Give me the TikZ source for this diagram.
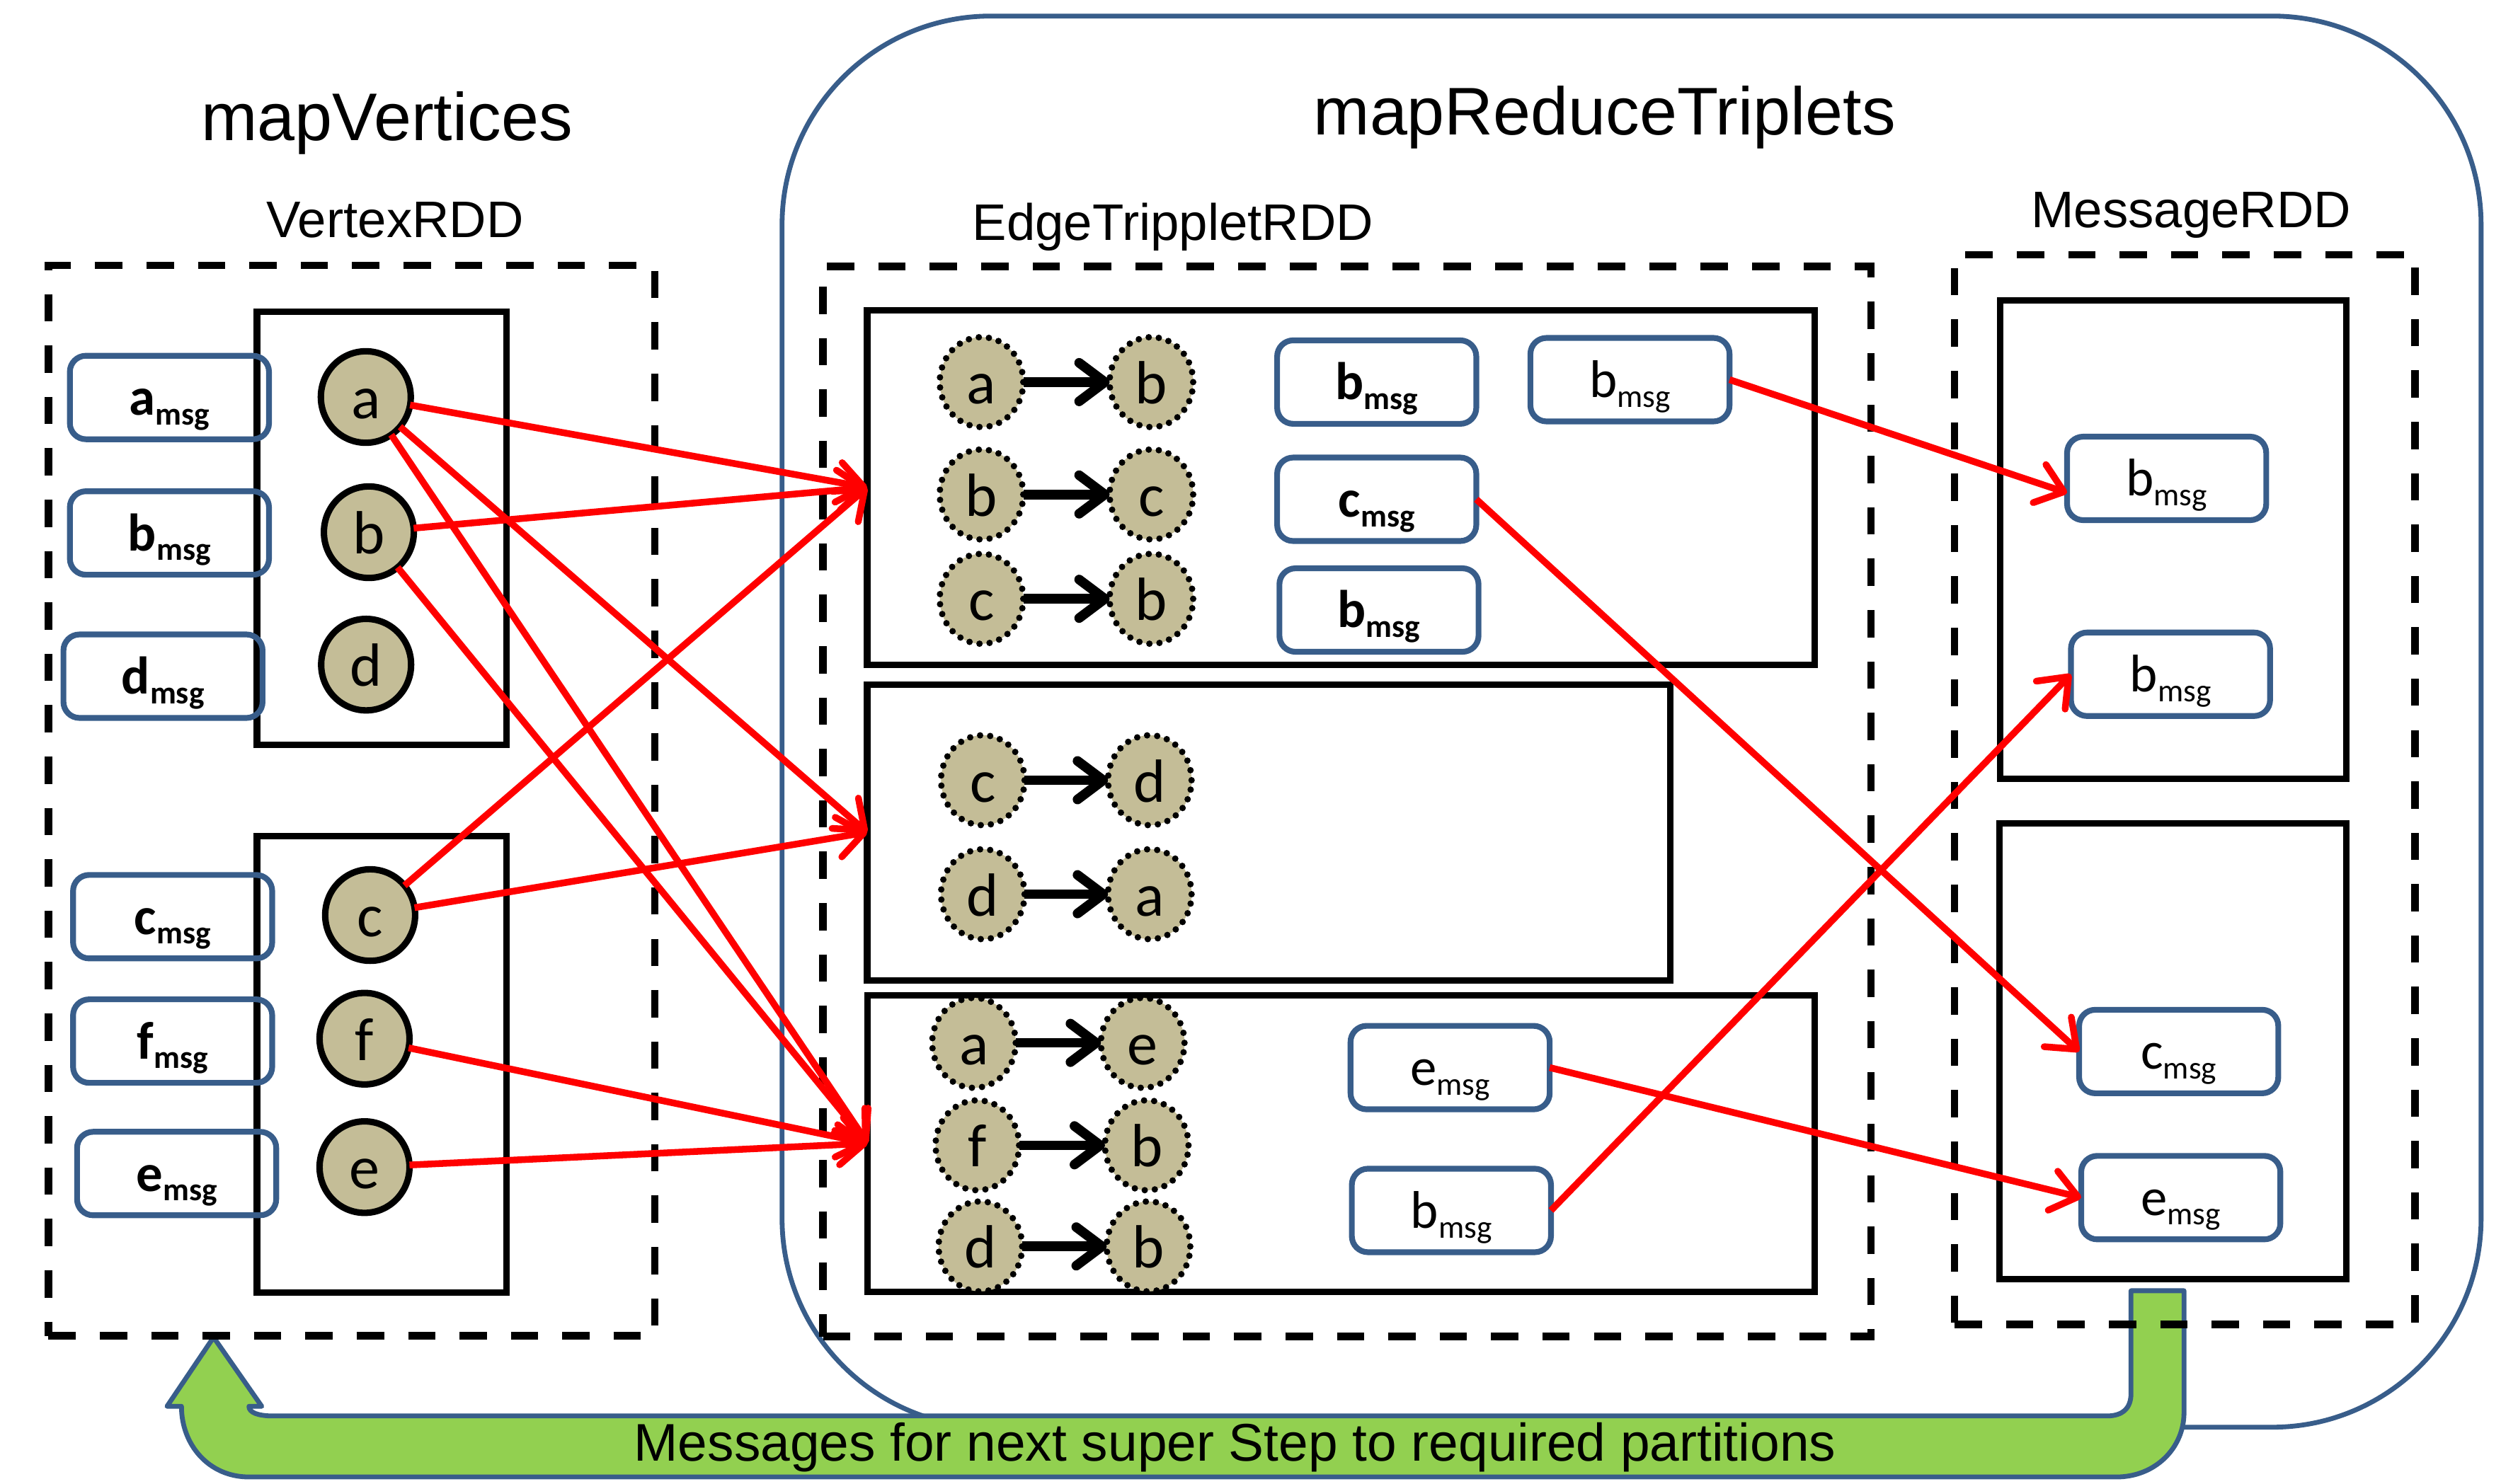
\documentclass[tikz,border=0pt]{standalone}
\usepackage{fontspec}
\setmainfont{Carlito}
\newfontfamily\arialf{Liberation Sans}
\usetikzlibrary{shapes.geometric,arrows.meta,calc}
\definecolor{msgblue}{RGB}{56,93,138}
\definecolor{tanfill}{RGB}{196,189,151}
\definecolor{greenfill}{RGB}{146,208,80}
\newcommand{\msgtext}[1]{{\fontsize{33}{33}\selectfont #1}\raisebox{-6pt}{\fontsize{20}{20}\selectfont msg}}
\begin{document}
\begin{tikzpicture}[x=1pt,y=-1pt,
  dashbox/.style={draw, line width=4.6pt, dash pattern=on 17pt off 15pt, inner sep=0pt, outer sep=0pt},
  partbox/.style={draw, line width=4pt, inner sep=0pt, outer sep=0pt},
  msgbox/.style={draw=msgblue, line width=3.6pt, rounded corners=10pt, minimum width=124pt, minimum height=52pt, inner sep=0pt, outer sep=0pt, text height=27pt, text depth=5pt},
  vert/.style={ellipse, draw, line width=4pt, fill=tanfill, minimum width=56pt, minimum height=57pt, inner sep=0pt, outer sep=0pt, font=\fontsize{38}{38}\selectfont, text height=27pt, text depth=0pt},
  dvert/.style={vert, line width=4pt, dash pattern=on 0pt off 6.3pt, line cap=round, minimum width=52pt, minimum height=56pt},
  redarr/.style={draw=red, line width=4.2pt, -{Straight Barb[length=16pt,width=25pt,round]}},
  tarr/.style={draw, line width=6pt, -{Straight Barb[length=16pt,width=24pt,round]}},
  titletext/.style={font=\arialf\fontsize{42}{42}\selectfont, anchor=base, inner sep=0pt},
  subtitletext/.style={font=\arialf\fontsize{32}{32}\selectfont, anchor=base, inner sep=0pt}
]
\useasboundingbox (0,0) rectangle (1568,924);

% big mapReduceTriplets frame
\draw[draw=msgblue, line width=3pt, rounded corners=130pt] (487,10) rectangle (1545,889);

% green return arrow
\draw[draw=msgblue, line width=3pt, fill=greenfill, line join=round]
 (1327,804) -- (1327,868) .. controls (1327,877) and (1322,882) .. (1312,882)
 -- (170,882) .. controls (161,882) and (155,880) .. (155,876)
 -- (163,876) -- (133,833) -- (104,876) -- (113,876)
 .. controls (113,900) and (130,920) .. (155,920)
 -- (1318,920) .. controls (1342,920) and (1360,902) .. (1360,880)
 -- (1360,804) -- cycle;
\node[font=\arialf\fontsize{33}{33}\selectfont, anchor=base, inner sep=0pt] (looptext) at (769,910) {Messages for next super Step to required partitions};

% titles
\node[titletext] (t1) at (241,87.4) {mapVertices};
\node[titletext] (t2) at (999.3,83.8) {mapReduceTriplets};
\node[subtitletext] (s1) at (246,148.1) {VertexRDD};
\node[subtitletext] (s2) at (730.4,149.6) {EdgeTrippletRDD};
\node[subtitletext] (s3) at (1364.4,141.7) {MessageRDD};

% dashed RDD boxes
\node[dashbox, minimum width=377.7pt, minimum height=666.7pt] (vrdd) at (219,498.7) {};
\node[dashbox, minimum width=652.5pt, minimum height=666.5pt] (erdd) at (838.75,499.25) {};
\node[dashbox, minimum width=286.7pt, minimum height=666.3pt] (mrdd) at (1360.55,491.85) {};

% partitions
\node[partbox, minimum width=155.5pt, minimum height=270pt] (vp1) at (237.75,329) {};
\node[partbox, minimum width=155.5pt, minimum height=284pt] (vp2) at (237.75,663) {};
\node[partbox, minimum width=590pt, minimum height=221pt] (ep1) at (835,303.7) {};
\node[partbox, minimum width=500pt, minimum height=184.3pt] (ep2) at (790,518.45) {};
\node[partbox, minimum width=589.7pt, minimum height=184.8pt] (ep3) at (835.15,712.2) {};
\node[partbox, minimum width=215.6pt, minimum height=297.7pt] (mp1) at (1353.4,336.15) {};
\node[partbox, minimum width=216pt, minimum height=283.9pt] (mp2) at (1353.2,654.75) {};

% vertex messages
\node[msgbox] (am) at (105.5,247.6) {\bfseries\msgtext{a}};
\node[msgbox] (bm) at (105.5,332) {\bfseries\msgtext{b}};
\node[msgbox] (dm) at (101.5,421.2) {\bfseries\msgtext{d}};
\node[msgbox] (cm) at (107.5,571) {\bfseries\msgtext{c}};
\node[msgbox] (fm) at (107.5,648.5) {\bfseries\msgtext{f}};
\node[msgbox] (em) at (110,731) {\bfseries\msgtext{e}};

% vertices
\node[vert] (va) at (227.8,247.3) {a};
\node[vert] (vb) at (229.7,331.5) {b};
\node[vert] (vd) at (228,414) {d};
\node[vert] (vc) at (230.5,570) {c};
\node[vert] (vf) at (227,647) {f};
\node[vert] (ve) at (227,727) {e};

% edge triplets
\node[dvert] (t1a) at (611.2,238) {a};
\node[dvert] (t1b) at (717,238) {b};
\node[dvert] (t2a) at (611.2,308) {b};
\node[dvert] (t2b) at (717,308) {c};
\node[dvert] (t3a) at (611.2,373) {c};
\node[dvert] (t3b) at (717,373) {b};
\node[dvert] (t4a) at (612,486) {c};
\node[dvert] (t4b) at (716,486) {d};
\node[dvert] (t5a) at (612,557) {d};
\node[dvert] (t5b) at (716,557) {a};
\node[dvert] (t6a) at (606.5,649.6) {a};
\node[dvert] (t6b) at (711.6,649.6) {e};
\node[dvert] (t7a) at (608.6,713.4) {f};
\node[dvert] (t7b) at (714.1,713.4) {b};
\node[dvert] (t8a) at (610.5,776.4) {d};
\node[dvert] (t8b) at (715.2,776.4) {b};
\foreach \i in {1,...,8} {\draw[tarr] (t\i a) -- (t\i b);}

% edge partition messages
\node[msgbox] (e1) at (857.3,238) {\bfseries\msgtext{b}};
\node[msgbox] (e2) at (857.3,311) {\bfseries\msgtext{c}};
\node[msgbox] (e3) at (858.7,380) {\bfseries\msgtext{b}};
\node[msgbox] (e4) at (1015,236.5) {\msgtext{b}};
\node[msgbox] (e5) at (903,665) {\msgtext{e}};
\node[msgbox] (e6) at (903.8,754) {\msgtext{b}};

% message RDD messages
\node[msgbox] (m1) at (1349.2,298) {\msgtext{b}};
\node[msgbox] (m2) at (1351.6,420) {\msgtext{b}};
\node[msgbox] (m3) at (1356.7,655) {\msgtext{c}};
\node[msgbox] (m4) at (1358,746) {\msgtext{e}};

% red arrows: vertices to edge partitions
\draw[redarr] (va) -- (ep1.west);
\draw[redarr] (vb) -- (ep1.west);
\draw[redarr] (vc) -- (ep1.west);
\draw[redarr] (va) -- (ep2.west);
\draw[redarr] (vc) -- (ep2.west);
\draw[redarr] (va) -- (ep3.west);
\draw[redarr] (vb) -- (ep3.west);
\draw[redarr] (vf) -- (ep3.west);
\draw[redarr] (ve) -- (ep3.west);

% red arrows: messages to message RDD
\draw[redarr] (e4.east) -- ($(m1.west)+(0,9)$);
\draw[redarr] (e2.east) -- (m3.west);
\draw[redarr] (e5.east) -- (m4.west);
\draw[redarr] (e6.east) -- (m2.west);
\end{tikzpicture}
\end{document}
